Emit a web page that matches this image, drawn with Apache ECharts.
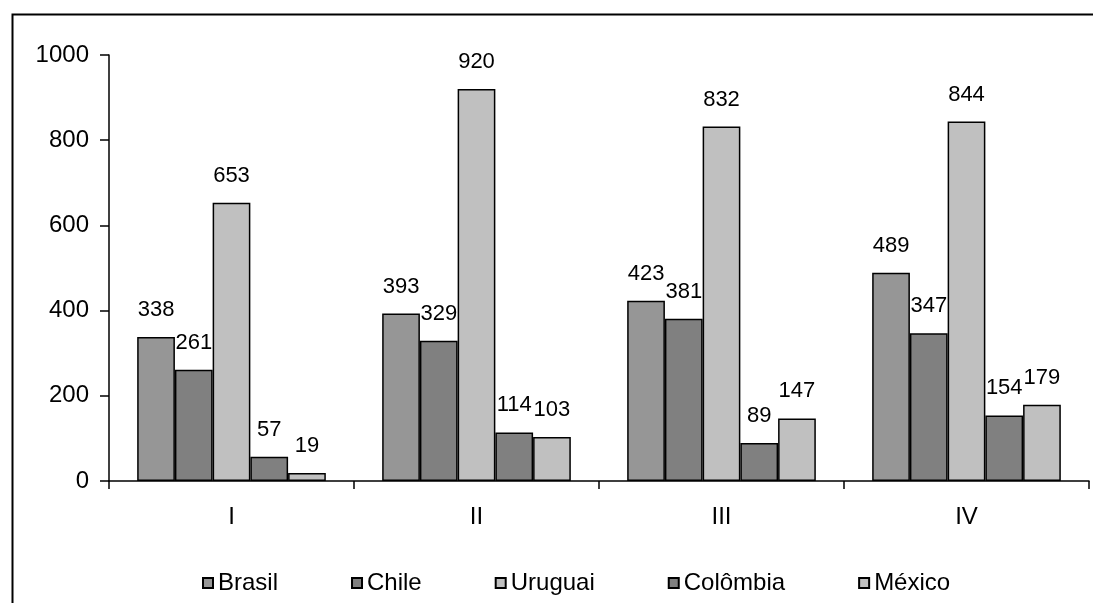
<!DOCTYPE html>
<html>
<head>
<meta charset="utf-8">
<script src="https://cdn.jsdelivr.net/npm/echarts@6/dist/echarts.min.js"></script>
<style>
  html, body { margin: 0; padding: 0; background: #fff; }
  #chart { width: 1093px; height: 603px; }
</style>
</head>
<body>
<div id="chart"></div>
<script>
// Quarters on the category axis
const categories = ['I', 'II', 'III', 'IV'];

// Values per country
const brasil   = [338, 393, 423, 489];
const chile    = [261, 329, 381, 347];
const uruguai  = [653, 920, 832, 844];
const colombia = [57, 114, 89, 154];
const mexico   = [19, 103, 147, 179];

const seriesNames = ['Brasil', 'Chile', 'Uruguai', 'Colômbia', 'México'];
const seriesData = [brasil, chile, uruguai, colombia, mexico];
const seriesColors = ['#969696', '#808080', '#c0c0c0', '#808080', '#c0c0c0'];

const yTicks = { min: 0, max: 1000, interval: 200 };

const FONT = "'Liberation Sans', Arial, sans-serif";

const chart = echarts.init(document.getElementById('chart'), null, { renderer: 'canvas' });

chart.setOption({
  animation: false,
  backgroundColor: '#ffffff',
  textStyle: { fontFamily: FONT, color: '#000' },
  graphic: [{
    type: 'rect',
    left: 10,
    top: 12,
    shape: { width: 2000, height: 2000 },
    style: { fill: 'none', stroke: '#000', lineWidth: 2 },
    silent: true,
    z: -10
  }],
  grid: {
    left: 109,
    right: 4,
    top: 55,
    bottom: 122,
    containLabel: false,
    outerBoundsMode: 'none'
  },
  legend: {
    left: 202,
    top: 571,
    padding: 0,
    itemWidth: 10,
    itemHeight: 10,
    itemGap: 73,
    icon: 'rect',
    textStyle: { fontFamily: FONT, fontSize: 24, color: '#000' },
    data: seriesNames
  },
  xAxis: {
    type: 'category',
    data: categories,
    axisLine: { show: true, lineStyle: { color: '#000', width: 1.5 } },
    axisTick: { show: true, length: 8, lineStyle: { color: '#000', width: 1.5 } },
    axisLabel: { fontFamily: FONT, fontSize: 24, color: '#000', margin: 24 },
    splitLine: { show: false }
  },
  yAxis: {
    type: 'value',
    min: yTicks.min,
    max: yTicks.max,
    interval: yTicks.interval,
    axisLine: { show: true, lineStyle: { color: '#000', width: 1.5 } },
    axisTick: { show: true, length: 9, lineStyle: { color: '#000', width: 1.5 } },
    axisLabel: {
      fontFamily: FONT, fontSize: 24, color: '#000', margin: 20,
      formatter: (v) => String(v)
    },
    splitLine: { show: false }
  },
  series: seriesNames.map((name, i) => ({
    name: name,
    type: 'bar',
    data: seriesData[i],
    barGap: '0%',
    barCategoryGap: '23%',
    itemStyle: { color: seriesColors[i], borderColor: '#000', borderWidth: 1.5 },
    label: {
      show: true,
      position: 'top',
      distance: 16,
      fontFamily: FONT,
      fontSize: 22,
      color: '#000'
    }
  }))
});
</script>
</body>
</html>
